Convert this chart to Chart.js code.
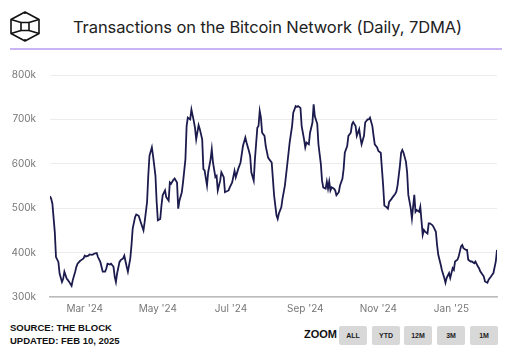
<!DOCTYPE html>
<html>
<head>
<meta charset="utf-8">
<script src="https://cdn.jsdelivr.net/npm/chart.js@4.4.1/dist/chart.umd.min.js"></script>
<style>
  html, body { margin: 0; padding: 0; background: #fff; }
  body { width: 512px; height: 350px; position: relative; overflow: hidden; font-family: Inter, "Noto Sans", sans-serif; }
  #logo { position: absolute; left: 9px; top: 10px; }
  #title { position: absolute; left: 73px; top: 17px; font-size: 16.5px; color: #222; white-space: nowrap; letter-spacing: -0.1px; }
  #rule { position: absolute; left: 10px; top: 48px; width: 492px; height: 2px; background: #c9b4f6; }
  #wrap { position: absolute; left: 0; top: 55px; width: 512px; height: 266px; }
  #source { position: absolute; left: 10px; top: 321px; font-family: "Liberation Sans", Arial, sans-serif; font-weight: bold; font-size: 9.5px; line-height: 13px; color: #111; }
  #zoom { position: absolute; left: 304px; top: 328px; font-family: "Liberation Sans", Arial, sans-serif; font-weight: bold; font-size: 11px; color: #111; }
  .btn { position: absolute; top: 326px; width: 28px; height: 19px; background: #d8d8d8; border-radius: 2px; font-family: "Liberation Sans", Arial, sans-serif; font-weight: bold; font-size: 7px; color: #222; text-align: center; line-height: 19px; }
</style>
</head>
<body>
<svg id="logo" width="32" height="32" viewBox="0 0 32 32" fill="none" stroke="#111" stroke-width="1.6" stroke-linejoin="round">
  <polygon points="16,2 30,9.5 30,23.5 16,31 2,23.5 2,9.5"/>
  <rect x="12" y="12.5" width="8" height="8"/>
  <line x1="2" y1="9.5" x2="12" y2="12.5"/>
  <line x1="30" y1="9.5" x2="20" y2="12.5"/>
  <line x1="16" y1="2" x2="16" y2="4"/>
  <line x1="2" y1="23.5" x2="12" y2="20.5"/>
  <line x1="30" y1="23.5" x2="20" y2="20.5"/>
  <line x1="16" y1="31" x2="16" y2="29"/>
</svg>
<div id="title">Transactions on the Bitcoin Network (Daily, 7DMA)</div>
<div id="rule"></div>
<div id="wrap"><canvas id="chart"></canvas></div>
<div id="source">SOURCE: THE BLOCK<br>UPDATED: FEB 10, 2025</div>
<div id="zoom">ZOOM</div>
<div class="btn" style="left:339px">ALL</div>
<div class="btn" style="left:372px">YTD</div>
<div class="btn" style="left:404px">12M</div>
<div class="btn" style="left:437px">3M</div>
<div class="btn" style="left:470px">1M</div>
<script>
// days since Feb 1 2024 and 7DMA transaction count (thousands)
const days = [0,1,2,4,5,7,8,10,11,12,14,15,16,18,19,21,22,23,25,26,28,29,30,32,33,35,36,37,39,40,
  42,43,44,46,47,48,50,51,53,54,55,56,58,59,61,62,64,65,67,68,69,71,72,74,76,78,79,81,82,83,
  85,86,88,89,90,92,93,94,96,97,99,100,101,103,104,106,107,108,110,111,113,114,115,117,118,120,121,122,124,125,
  127,128,129,131,132,134,135,136,138,139,140,142,143,145,146,149,150,152,154,155,157,159,161,163,164,166,167,168,170,171,
  173,174,175,176,177,179,180,182,183,185,186,187,189,190,191,193,194,196,198,200,202,203,205,206,207,209,210,212,213,214,
  216,217,219,220,221,223,224,226,227,228,230,231,232,233,234,235,237,238,239,241,242,244,245,246,248,249,251,252,253,255,
  256,258,259,260,262,263,265,266,267,269,270,271,273,274,276,277,278,279,281,282,283,285,286,288,289,290,292,293,294,295,
  297,298,299,301,302,304,305,306,308,309,311,312,313,315,316,317,319,320,322,323,324,326,327,329,330,331,333,334,336,337,
  338,340,341,343,344,345,347,348,349,351,352,354,355,357,358,359,361,362,363,365,366,368,369,370,372,373];
const txns = [527,521,510,446,390,379,353,334,341,357,341,338,334,325,338,357,368,375,381,383,387,393,391,393,396,395,396,398,399,390,
  379,368,357,357,364,375,373,375,368,346,334,353,379,383,387,393,368,357,387,417,454,480,486,483,466,450,469,514,573,618,
  637,618,573,514,473,476,506,529,540,525,517,558,555,564,567,558,499,517,536,558,610,685,704,700,722,696,681,655,687,678,
  655,588,585,551,581,610,633,603,570,573,540,562,581,570,536,540,547,558,584,570,588,603,640,659,648,629,618,581,562,610,
  681,685,719,704,670,663,640,614,610,603,566,529,484,476,488,502,521,551,599,648,685,715,730,728,730,726,685,655,637,648,
  644,670,693,734,707,690,644,600,562,547,544,560,544,560,540,547,544,540,529,536,551,566,588,625,640,663,670,689,694,685,
  663,678,659,644,663,693,700,700,704,685,663,644,637,629,625,588,551,506,502,499,514,521,525,532,537,551,596,625,631,625,
  605,581,530,500,477,530,492,496,492,503,440,451,447,443,466,466,462,458,447,417,395,373,361,343,332,343,354,343,365,361,
  380,384,391,414,417,410,406,406,384,380,380,376,380,369,365,358,350,346,335,332,339,346,350,354,380,406];
const tickDays = [29, 90, 151, 213, 274, 335];
const tickLabels = ["Mar '24", "May '24", "Jul '24", "Sep '24", "Nov '24", "Jan '25"];
const yTicks = [300, 400, 500, 600, 700, 800];

const points = days.map((d, i) => ({ x: d, y: txns[i] }));

new Chart(document.getElementById('chart').getContext('2d'), {
  type: 'line',
  data: { datasets: [{ data: points, borderColor: '#1c1b4d', borderWidth: 1.8, pointRadius: 0, tension: 0, fill: false }] },
  options: {
    responsive: true, maintainAspectRatio: false, animation: false,
    layout: { padding: { top: 8, right: 15, left: 0, bottom: 0 } },
    plugins: { legend: { display: false }, tooltip: { enabled: false } },
    scales: {
      x: {
        type: 'linear', min: 0, max: 373,
        afterBuildTicks: s => { s.ticks = tickDays.map(v => ({ value: v })); },
        ticks: { autoSkip: false, maxRotation: 0, color: '#777', font: { family: 'Inter', size: 10 }, padding: 6,
          callback: v => tickLabels[tickDays.indexOf(v)] },
        grid: { display: false, drawTicks: false },
        border: { color: '#bbb', width: 1.5 }
      },
      y: {
        min: 300, max: 800,
        afterBuildTicks: s => { s.ticks = yTicks.map(v => ({ value: v })); },
        afterFit: s => { s.width = 50; },
        ticks: { color: '#777', font: { family: 'Inter', size: 10 }, padding: 14, callback: v => v + 'k' },
        grid: { color: '#ececec', drawTicks: false },
        border: { display: false }
      }
    }
  }
});
</script>
</body>
</html>
